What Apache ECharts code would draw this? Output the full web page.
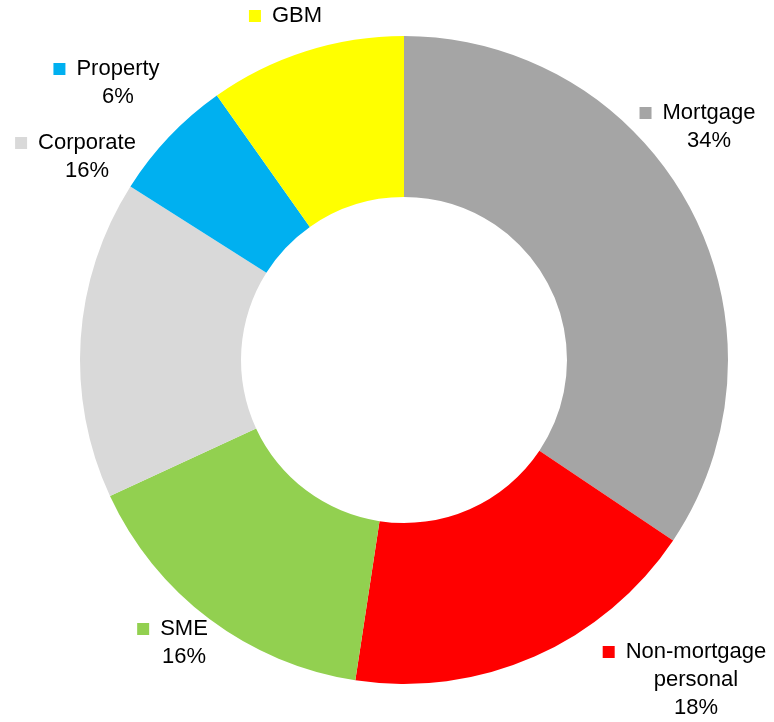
<!DOCTYPE html>
<html>
<head>
<meta charset="utf-8">
<script src="https://cdn.jsdelivr.net/npm/echarts@6/dist/echarts.min.js"></script>
<style>
  html, body { margin: 0; padding: 0; background: #fff; }
  #main { width: 774px; height: 722px; }
</style>
</head>
<body>
<div id="main"></div>
<script>
// slices, clockwise from 12 o'clock (shares in %, labels rounded)
const names = ['Mortgage', 'Non-mortgage\npersonal', 'SME', 'Corporate', 'Property', 'GBM'];
const values = [34.4, 18.0, 15.7, 15.9, 6.2, 9.8];
const colors = ['#A5A5A5', '#FF0000', '#92D050', '#D9D9D9', '#00B0F0', '#FFFF00'];
const showPct = [true, true, true, true, true, false];

// where the labels sit (block centre), placed by hand like the original
const labelPos = [[709, 127], [696, 680], [184, 643], [87, 157], [118, 83], [297, 16]];

const rich = {
  n: { fontSize: 22, fontFamily: 'Liberation Sans, Arial, sans-serif', color: '#000', lineHeight: 28 },
  gap: { width: 11 },
  pad: { width: 23 }
};
colors.forEach((c, i) => {
  rich['sq' + i] = { width: 12, height: 12, backgroundColor: c };
});

const chart = echarts.init(document.getElementById('main'));
chart.setOption({
  animation: false,
  color: colors,
  series: [{
    type: 'pie',
    center: [404, 360],
    radius: [163, 324],
    startAngle: 90,
    clockwise: true,
    avoidLabelOverlap: false,
    itemStyle: { borderWidth: 0 },
    label: {
      show: true,
      position: 'outside',
      formatter: function (p) {
        const lines = p.name.split('\n');
        let s = '{sq' + p.dataIndex + '|}{gap|}{n|' + lines[0] + '}{pad|}';
        for (let k = 1; k < lines.length; k++) s += '\n{n|' + lines[k] + '}';
        if (showPct[p.dataIndex]) s += '\n{n|' + Math.round(p.value) + '%}';
        return s;
      },
      rich: rich
    },
    labelLine: { show: false },
    labelLayout: function (p) {
      const pos = labelPos[p.dataIndex];
      return { x: pos[0], y: pos[1], align: 'center', verticalAlign: 'middle' };
    },
    data: names.map((n, i) => ({ name: n, value: values[i] }))
  }]
});
</script>
</body>
</html>
